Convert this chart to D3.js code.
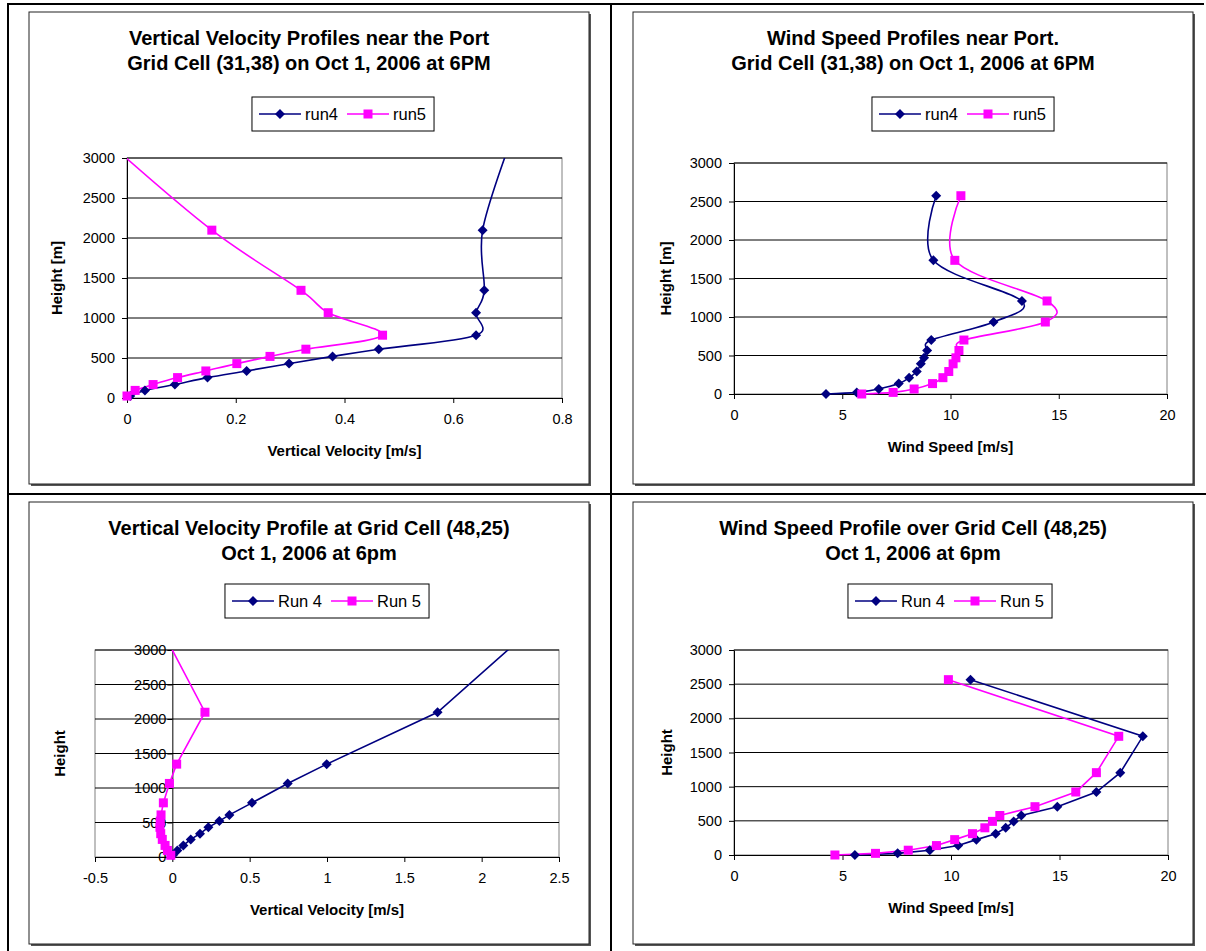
<!DOCTYPE html>
<html><head><meta charset="utf-8">
<script src="https://cdnjs.cloudflare.com/ajax/libs/d3/7.8.5/d3.min.js"></script>
<style>
body{margin:0;background:#fff}
svg{display:block}
text{font-family:"Liberation Sans",Arial,sans-serif;fill:#000}
</style>
</head><body><svg id="c" width="1206" height="951"></svg>
<script>
// ---------- DATA ----------
// Vertical velocity levels (m); the last level lies above the 3000 m axis top
const vvHeights     = [25, 95, 168, 255, 338, 430, 520, 610, 785, 1066, 1346, 2098, 3200];
const vvPortRun4    = [0.006, 0.033, 0.088, 0.148, 0.220, 0.298, 0.378, 0.463, 0.642, 0.642, 0.657, 0.654, 0.705];
const vvPortRun5    = [0.000, 0.015, 0.048, 0.093, 0.145, 0.202, 0.263, 0.329, 0.470, 0.370, 0.320, 0.156, -0.035];
const vvCellRun4    = [0.003, 0.032, 0.071, 0.119, 0.179, 0.233, 0.304, 0.369, 0.515, 0.746, 0.998, 1.715, 2.27];
const vvCellRun5    = [-0.010, -0.032, -0.047, -0.065, -0.075, -0.080, -0.078, -0.073, -0.058, -0.019, 0.028, 0.211, -0.047];
// Wind speed levels (m)
const wsPortHeights = [0, 21, 65, 135, 212, 292, 392, 470, 565, 701, 935, 1208, 1736, 2575];
const wsPortRun4    = [4.25, 5.67, 6.69, 7.61, 8.09, 8.44, 8.63, 8.78, 8.92, 9.11, 11.99, 13.30, 9.21, 9.34];
const wsPortRun5    = [5.90, 7.35, 8.32, 9.17, 9.65, 9.92, 10.12, 10.25, 10.39, 10.62, 14.38, 14.46, 10.20, 10.48];
const wsCellHeights = [0, 24, 70, 138, 225, 312, 398, 492, 578, 707, 922, 1205, 1737, 2566];
const wsCellRun4    = [5.57, 7.54, 9.02, 10.33, 11.17, 12.06, 12.52, 12.89, 13.24, 14.90, 16.70, 17.80, 18.84, 10.90];
const wsCellRun5    = [4.65, 6.52, 8.03, 9.33, 10.17, 10.99, 11.56, 11.91, 12.25, 13.87, 15.75, 16.70, 17.73, 9.88];
// Tick values
const heightTicks   = [0, 500, 1000, 1500, 2000, 2500, 3000];
const vvPortTicks   = [0, 0.2, 0.4, 0.6, 0.8];
const vvCellTicks   = [-0.5, 0, 0.5, 1, 1.5, 2, 2.5];
const wsTicks       = [0, 5, 10, 15, 20];
// Labels
const titles = [
  ["Vertical Velocity Profiles near the Port", "Grid Cell (31,38) on Oct 1, 2006 at 6PM"],
  ["Wind Speed Profiles near Port.", "Grid Cell (31,38) on Oct 1, 2006 at 6PM"],
  ["Vertical Velocity Profile at Grid Cell (48,25)", "Oct 1, 2006 at 6pm"],
  ["Wind Speed Profile over Grid Cell (48,25)", "Oct 1, 2006 at 6pm"]
];
const legendLower = ["run4", "run5"];
const legendUpper = ["Run 4", "Run 5"];

// ---------- STYLE ----------
const C4 = "#000080", C5 = "#ff00ff";
const FONT = '"Liberation Sans",Arial,sans-serif';
const loc = d3.formatLocale({decimal: ".", thousands: ",", grouping: [3], currency: ["", ""], minus: "-"});
const svg = d3.select("#c");

// table grid lines
const tbl = svg.append("g").attr("stroke", "#000").attr("stroke-width", 2);
tbl.append("line").attr("x1", 7).attr("y1", 4).attr("x2", 1204).attr("y2", 4);
tbl.append("line").attr("x1", 8).attr("y1", 3).attr("x2", 8).attr("y2", 951);
tbl.append("line").attr("x1", 7).attr("y1", 494).attr("x2", 1206).attr("y2", 494);
tbl.append("line").attr("x1", 611).attr("y1", 3).attr("x2", 611).attr("y2", 951);

const charts = [
  { box:[29,12,589,484], title:titles[0], legend:legendLower, legendY:114, legendCx:343, plot:[127,158,562,398],
    xDomain:[0,0.8], xTicks:vvPortTicks, fmt:loc.format(".1~f"), xTitle:"Vertical Velocity [m/s]", yTitle:"Height [m]",
    heights:vvHeights, s4:vvPortRun4, s5:vvPortRun5, smooth:true, yAxisAtZero:false, yTitleX:57 },
  { box:[633,12,1193,484], title:titles[1], legend:legendLower, legendY:114, legendCx:963, plot:[734,163,1167,394],
    xDomain:[0,20], xTicks:wsTicks, fmt:loc.format("d"), xTitle:"Wind Speed [m/s]", yTitle:"Height [m]",
    heights:wsPortHeights, s4:wsPortRun4, s5:wsPortRun5, smooth:true, yAxisAtZero:false, yTitleX:666 },
  { box:[29,502,589,944], title:titles[2], legend:legendUpper, legendY:601, legendCx:327, plot:[95,650,559,857],
    xDomain:[-0.5,2.5], xTicks:vvCellTicks, fmt:loc.format(".1~f"), xTitle:"Vertical Velocity [m/s]", yTitle:"Height",
    heights:vvHeights, s4:vvCellRun4, s5:vvCellRun5, smooth:false, yAxisAtZero:true, yTitleX:60 },
  { box:[633,502,1193,944], title:titles[3], legend:legendUpper, legendY:601, legendCx:950, plot:[734,650,1168,855],
    xDomain:[0,20], xTicks:wsTicks, fmt:loc.format("d"), xTitle:"Wind Speed [m/s]", yTitle:"Height",
    heights:wsCellHeights, s4:wsCellRun4, s5:wsCellRun5, smooth:false, yAxisAtZero:false, yTitleX:667 }
];

function diamond(sel, r){ sel.attr("d", `M0,${-r}L${r},0L0,${r}L${-r},0Z`); }

charts.forEach((c, i) => {
  const g = svg.append("g");
  const [bx0, by0, bx1, by1] = c.box;
  g.append("rect").attr("x", bx0+2).attr("y", by0+2).attr("width", bx1-bx0).attr("height", by1-by0).attr("fill", "#555");
  g.append("rect").attr("x", bx0).attr("y", by0).attr("width", bx1-bx0).attr("height", by1-by0)
    .attr("fill", "#fff").attr("stroke", "#222").attr("stroke-width", 1);
  const cx = (bx0 + bx1) / 2;
  // title
  c.title.forEach((t, k) => {
    g.append("text").attr("x", cx).attr("y", by0 + 26 + k*24.5).attr("dy", "0.35em")
      .attr("text-anchor", "middle").attr("font-weight", "bold").attr("font-size", 20).text(t);
  });

  const [px0, py0, px1, py1] = c.plot;
  const x = d3.scaleLinear().domain(c.xDomain).range([px0, px1]);
  const y = d3.scaleLinear().domain([0, 3000]).range([py1, py0]);

  // legend
  const lg = g.append("g");
  const lineLen = 42, fs = 16.5;
  let cur = 7;
  c.legend.forEach((lab, k) => {
    const col = k === 0 ? C4 : C5;
    const it = lg.append("g").attr("transform", `translate(${cur},0)`);
    it.append("line").attr("x1", 0).attr("x2", lineLen).attr("y1", 0).attr("y2", 0).attr("stroke", col).attr("stroke-width", 1.6);
    if (k === 0) it.append("path").call(diamond, 5).attr("transform", `translate(${lineLen/2},0)`).attr("fill", C4);
    else it.append("rect").attr("x", lineLen/2-4.5).attr("y", -4.5).attr("width", 9).attr("height", 9).attr("fill", C5);
    const tx = it.append("text").attr("x", lineLen + 4).attr("y", 0).attr("dy", "0.35em").attr("font-size", fs).text(lab);
    const w = tx.node().getComputedTextLength();
    cur += lineLen + 4 + w + (k === 0 ? 9 : 8);
  });
  const lw = cur;
  lg.insert("rect", ":first-child").attr("x", 0).attr("y", -17).attr("width", lw).attr("height", 34)
    .attr("fill", "#fff").attr("stroke", "#000").attr("stroke-width", 1);
  lg.attr("transform", `translate(${c.legendCx - lw/2},${c.legendY})`);

  // plot area
  g.append("rect").attr("x", px0).attr("y", py0).attr("width", px1-px0).attr("height", py1-py0)
    .attr("fill", "#fff").attr("stroke", "#808080").attr("stroke-width", 1);
  // gridlines
  g.append("g").selectAll("line").data(heightTicks.filter(d => d > 0)).join("line")
    .attr("x1", px0).attr("x2", px1).attr("y1", d => y(d)).attr("y2", d => y(d))
    .attr("stroke", "#000").attr("stroke-width", 1);

  // axes
  const yAxisX = c.yAxisAtZero ? x(0) : px0;
  const ya = g.append("g").attr("transform", `translate(${yAxisX},0)`)
    .call(d3.axisLeft(y).tickValues(heightTicks).tickSize(5).tickSizeOuter(0).tickPadding(c.yAxisAtZero ? 1 : 7).tickFormat(loc.format("d")));
  const xa = g.append("g").attr("transform", `translate(0,${y(0)})`)
    .call(d3.axisBottom(x).tickValues(c.xTicks).tickSize(5).tickSizeOuter(0).tickPadding(11).tickFormat(c.fmt));
  [ya, xa].forEach(a => {
    a.selectAll("text").attr("font-size", 14.5).attr("font-family", FONT).attr("fill", "#000");
    a.selectAll("line,path").attr("stroke", "#000");
  });

  // axis titles
  g.append("text").attr("x", (px0+px1)/2).attr("y", py1 + 53).attr("dy", "0.35em").attr("text-anchor", "middle")
    .attr("font-weight", "bold").attr("font-size", 15).text(c.xTitle);
  g.append("text").attr("transform", `translate(${c.yTitleX},${(py0+py1)/2}) rotate(-90)`).attr("dy", "0.35em")
    .attr("text-anchor", "middle").attr("font-weight", "bold").attr("font-size", 15).text(c.yTitle);

  // series
  const clipId = "clip" + i;
  g.append("clipPath").attr("id", clipId).append("rect").attr("x", px0).attr("y", py0).attr("width", px1-px0).attr("height", py1-py0+10);
  const line = d3.line().x(d => x(d[0])).y(d => y(d[1])).curve(c.smooth ? d3.curveCardinal.tension(0) : d3.curveLinear);
  const s4 = c.s4.map((v, k) => [v, c.heights[k]]);
  const s5 = c.s5.map((v, k) => [v, c.heights[k]]);
  g.append("path").datum(s4).attr("d", line).attr("fill", "none").attr("stroke", C4).attr("stroke-width", 1.6).attr("clip-path", `url(#${clipId})`);
  g.append("path").datum(s5).attr("d", line).attr("fill", "none").attr("stroke", C5).attr("stroke-width", 1.6).attr("clip-path", `url(#${clipId})`);
  const inside = d => d[1] <= 3000 && d[0] >= c.xDomain[0] - 1e-9;
  g.append("g").selectAll("path").data(s4.filter(inside)).join("path").call(diamond, 5)
    .attr("transform", d => `translate(${x(d[0])},${y(d[1])})`).attr("fill", C4);
  g.append("g").selectAll("rect").data(s5.filter(inside)).join("rect")
    .attr("x", d => x(d[0]) - 4.5).attr("y", d => y(d[1]) - 4.5).attr("width", 9).attr("height", 9).attr("fill", C5);
});
</script>
</body></html>
